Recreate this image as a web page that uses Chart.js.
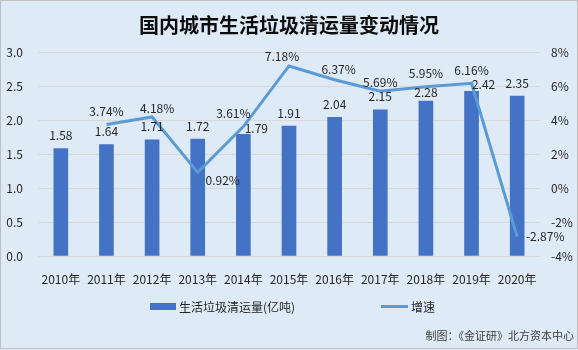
<!DOCTYPE html>
<html>
<head>
<meta charset="utf-8">
<script src="https://cdn.jsdelivr.net/npm/chart.js@4.4.0/dist/chart.umd.min.js"></script>
<style>
    html, body { margin: 0; padding: 0; background: #deebf7; }
    canvas { display: block; }
</style>
</head>
<body>
<canvas id="chart" width="578" height="350"></canvas>
<script>
// Data
const years = ['2010年', '2011年', '2012年', '2013年', '2014年', '2015年', '2016年', '2017年', '2018年', '2019年', '2020年'];
const volumes = [1.58, 1.64, 1.71, 1.72, 1.79, 1.91, 2.04, 2.15, 2.28, 2.42, 2.35];
const growth = [null, 3.74, 4.18, 0.92, 3.61, 7.18, 6.37, 5.69, 5.95, 6.16, -2.87];

const titleText = '国内城市生活垃圾清运量变动情况';
const barLabel = '生活垃圾清运量(亿吨)';
const lineLabel = '增速';
const sourceText = '制图：《金证研》北方资本中心';

const FONT = '"Noto Sans CJK SC", "Noto Sans", sans-serif';
const BAR_COLOR = '#4472c4';
const LINE_COLOR = '#5b9bd5';
const TEXT_COLOR = '#262626';

// label nudges (dx, dy from the mark) so labels sit where the original has them
const barNudge = { 4: [13, -6], 8: [0, -9], 9: [12, -7] };
const lineNudge = { 2: [5, -9], 3: [25, 8], 4: [-10, -13], 5: [-7, -10], 6: [4, -10], 7: [0, -9], 10: [28, 0] };

const decorPlugin = {
    id: 'decor',
    beforeDraw(chart) {
        const ctx = chart.ctx;
        ctx.save();
        ctx.fillStyle = '#deebf7';
        ctx.fillRect(0, 0, chart.width, chart.height);
        ctx.restore();
    },
    afterDatasetsDraw(chart) {
        const ctx = chart.ctx;
        ctx.save();
        ctx.font = '12px ' + FONT;
        ctx.fillStyle = TEXT_COLOR;
        ctx.textAlign = 'center';
        ctx.textBaseline = 'middle';

        // bar values
        chart.getDatasetMeta(1).data.forEach((el, i) => {
            const n = barNudge[i] || [0, -13];
            ctx.fillText(volumes[i].toFixed(2), el.x + n[0], el.y + n[1]);
        });

        // growth values
        chart.getDatasetMeta(0).data.forEach((el, i) => {
            if (growth[i] === null) return;
            const n = lineNudge[i] || [0, -13];
            ctx.fillText(growth[i].toFixed(2) + '%', el.x + n[0], el.y + n[1]);
        });
        ctx.restore();
    },
    afterDraw(chart) {
        const ctx = chart.ctx;
        ctx.save();

        // title
        ctx.font = 'bold 20px ' + FONT;
        ctx.fillStyle = '#0d0d0d';
        ctx.textAlign = 'center';
        ctx.textBaseline = 'middle';
        ctx.fillText(titleText, 289, 25);

        // legend
        ctx.font = '12px ' + FONT;
        ctx.textAlign = 'left';
        ctx.fillStyle = BAR_COLOR;
        ctx.fillRect(150, 303, 26, 7);
        ctx.fillStyle = TEXT_COLOR;
        ctx.fillText(barLabel, 179, 307);

        ctx.strokeStyle = LINE_COLOR;
        ctx.lineWidth = 3;
        ctx.beginPath();
        ctx.moveTo(381, 306.5);
        ctx.lineTo(408, 306.5);
        ctx.stroke();
        ctx.fillText(lineLabel, 411, 307);

        // source
        ctx.font = '11px ' + FONT;
        ctx.fillStyle = '#404040';
        ctx.textAlign = 'right';
        ctx.fillText(sourceText, 574, 336);

        // frame
        ctx.strokeStyle = '#bfbfbf';
        ctx.lineWidth = 1;
        ctx.strokeRect(0.5, 0.5, chart.width - 1, chart.height - 2);
        ctx.restore();
    }
};

new Chart(document.getElementById('chart'), {
    data: {
        labels: years,
        datasets: [{
            type: 'line',
            label: lineLabel,
            data: growth,
            yAxisID: 'y1',
            borderColor: LINE_COLOR,
            borderWidth: 3,
            pointRadius: 0,
            tension: 0,
            order: 0
        }, {
            type: 'bar',
            label: barLabel,
            data: volumes,
            yAxisID: 'y',
            backgroundColor: BAR_COLOR,
            barThickness: 14,
            order: 1
        }]
    },
    options: {
        responsive: false,
        animation: false,
        layout: { padding: { top: 52, bottom: 64, left: 0, right: 0 } },
        plugins: {
            legend: { display: false },
            tooltip: { enabled: false }
        },
        scales: {
            x: {
                grid: { display: false },
                border: { display: false },
                ticks: { color: TEXT_COLOR, font: { family: FONT, size: 12 }, padding: 8, maxRotation: 0 },
                afterFit(s) { s.height = 30; }
            },
            y: {
                position: 'left',
                min: 0,
                max: 3,
                ticks: {
                    stepSize: 0.5,
                    color: TEXT_COLOR,
                    font: { family: FONT, size: 12 },
                    padding: 15,
                    callback: v => v.toFixed(1)
                },
                grid: { color: '#d9d9d9', drawTicks: false },
                border: { display: false },
                afterFit(s) { s.width = 38; }
            },
            y1: {
                position: 'right',
                min: -4,
                max: 8,
                ticks: {
                    stepSize: 2,
                    color: TEXT_COLOR,
                    font: { family: FONT, size: 12 },
                    padding: 11,
                    callback: v => v + '%'
                },
                grid: { display: false, drawTicks: false },
                border: { display: false },
                afterFit(s) { s.width = 38; }
            }
        }
    },
    plugins: [decorPlugin]
});
</script>
</body>
</html>
